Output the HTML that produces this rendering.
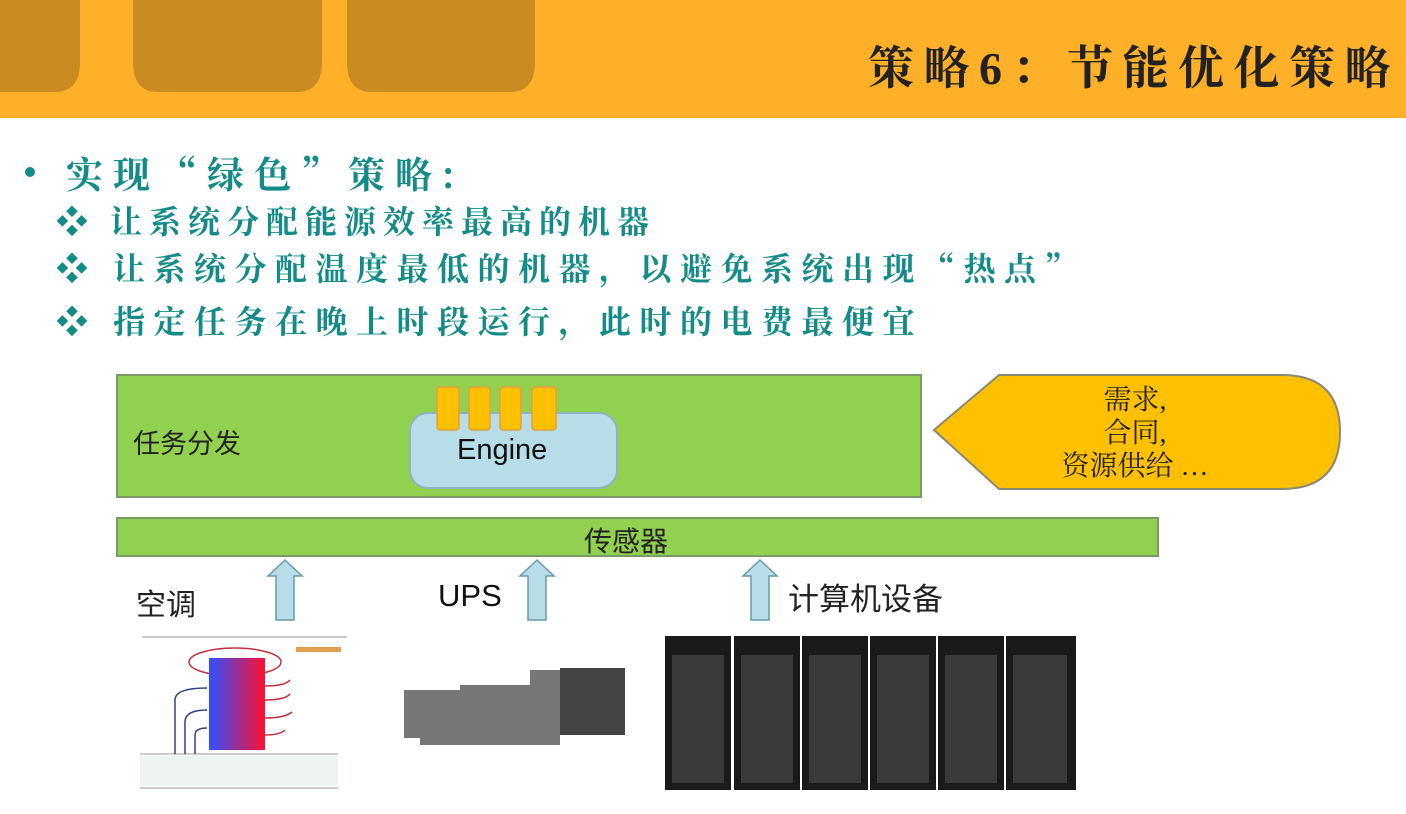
<!DOCTYPE html>
<html><head><meta charset="utf-8"><style>
body{margin:0;width:1406px;height:814px;background:#fff;overflow:hidden;position:relative;font-family:"Liberation Sans","Noto Sans CJK SC",sans-serif}
.abs{position:absolute;white-space:nowrap}
.t{color:#138b86;font-weight:bold;font-family:"Noto Serif CJK SC","Liberation Serif",serif}
</style></head><body>
<svg class="abs" style="left:0;top:0" width="1406" height="814">
<rect x="0" y="0" width="1406" height="118" fill="#FEB128"/>
<path d="M0 0H80V62Q80 92 55 92H0Z" fill="#C98B22"/>
<path d="M133 0H322V62Q322 92 297 92H158Q133 92 133 62Z" fill="#C98B22"/>
<path d="M347 0H535V62Q535 92 510 92H372Q347 92 347 62Z" fill="#C98B22"/>
<circle cx="30" cy="172" r="5" fill="#138b86"/>
<rect x="117" y="375" width="804" height="122" fill="#92D050" stroke="#7a9a6a" stroke-width="2"/>
<rect x="117" y="518" width="1041" height="38" fill="#92D050" stroke="#7a9a6a" stroke-width="2"/>
<rect x="410" y="413" width="207" height="75" rx="18" fill="#B7DDE8" stroke="#8fb3c0" stroke-width="2"/>
<g fill="#FFC000" stroke="#e0a040" stroke-width="1.5">
<rect x="437" y="387" width="22" height="43" rx="3"/><rect x="469" y="387" width="21" height="43" rx="3"/>
<rect x="500" y="387" width="21" height="43" rx="3"/><rect x="532" y="387" width="24" height="43" rx="3"/></g>
<path d="M934 430L999 375H1282Q1340 375 1340 432Q1340 489 1282 489H999Z" fill="#FFC000" stroke="#8a8a70" stroke-width="2"/>
<g fill="#B7DDE8" stroke="#6a9aa8" stroke-width="1.5">
<path d="M285 560L302 576H294V620H276V576H268Z"/>
<path d="M537 560L554 576H546V620H528V576H520Z"/>
<path d="M760 560L777 576H769V620H751V576H743Z"/></g>
<line x1="142" y1="637" x2="347" y2="637" stroke="#999"/>
<line x1="140" y1="754" x2="338" y2="754" stroke="#999"/>
<line x1="140" y1="788" x2="338" y2="788" stroke="#999"/>
<rect x="140" y="756" width="198" height="30" fill="#eef4f4"/>
<defs><linearGradient id="g" x1="0" x2="1"><stop offset="0" stop-color="#3050ff"/><stop offset="1" stop-color="#ff1030"/></linearGradient></defs>
<ellipse cx="235" cy="662" rx="46" ry="14" fill="none" stroke="#c03040" stroke-width="1.5"/>
<rect x="209" y="658" width="56" height="92" fill="url(#g)"/>
<g fill="none" stroke="#304080" stroke-width="1.5"><path d="M175 754V700Q175 688 207 688"/><path d="M185 754V722Q185 710 207 710"/><path d="M195 754V735Q195 728 207 728"/></g>
<g fill="none" stroke="#c03040" stroke-width="1.5"><path d="M265 686Q285 686 290 680"/><path d="M265 700Q285 700 290 694"/><path d="M265 718Q285 718 292 712"/><path d="M265 735Q280 735 285 730"/></g>
<rect x="296" y="647" width="45" height="5" fill="#e0a050"/>
<path d="M404 690H460V685H530V670H560V668H625V735H560V745H420V738H404Z" fill="#777"/>
<rect x="560" y="668" width="65" height="67" fill="#444"/>
<g fill="#1a1a1a">
<rect x="665" y="636" width="66" height="154"/><rect x="734" y="636" width="66" height="154"/><rect x="802" y="636" width="66" height="154"/>
<rect x="870" y="636" width="66" height="154"/><rect x="938" y="636" width="66" height="154"/><rect x="1006" y="636" width="70" height="154"/></g>
<g fill="#3a3a3a"><rect x="672" y="655" width="52" height="128"/><rect x="741" y="655" width="52" height="128"/><rect x="809" y="655" width="52" height="128"/><rect x="877" y="655" width="52" height="128"/><rect x="945" y="655" width="52" height="128"/><rect x="1013" y="655" width="54" height="128"/></g>
</svg>
<div class="abs" style="left:868px;top:32px;font-size:46px;letter-spacing:9.5px;font-weight:bold;color:#222;font-family:'Liberation Serif','Noto Serif CJK SC',serif">策略6：节能优化策略</div>
<div class="abs t" style="left:66px;top:147px;font-size:37px;letter-spacing:10px;line-height:50px">实现“绿色”策略:</div>
<div class="abs t" style="left:56px;top:198px;font-size:32px;letter-spacing:7px;line-height:44px">❖ 让系统分配能源效率最高的机器</div>
<div class="abs t" style="left:56px;top:245px;font-size:32px;letter-spacing:8.5px;line-height:44px">❖ 让系统分配温度最低的机器，以避免系统出现“热点”</div>
<div class="abs t" style="left:56px;top:298px;font-size:32px;letter-spacing:8.5px;line-height:44px">❖ 指定任务在晚上时段运行，此时的电费最便宜</div>
<div class="abs" style="left:133px;top:422px;font-size:27px;color:#222">任务分发</div>
<div class="abs" style="left:457px;top:434px;font-size:29px;color:#111">Engine</div>
<div class="abs" style="left:584px;top:520px;font-size:28px;color:#222">传感器</div>
<div class="abs" style="left:1030px;top:384px;width:210px;text-align:center;font-size:28px;line-height:33px;color:#222;font-family:'Liberation Serif','Noto Serif CJK SC',serif">需求,<br>合同,<br>资源供给 …</div>
<div class="abs" style="left:136px;top:580px;font-size:30px;color:#222">空调</div>
<div class="abs" style="left:438px;top:578px;font-size:31px;color:#111">UPS</div>
<div class="abs" style="left:788px;top:574px;font-size:31px;color:#222">计算机设备</div>
</body></html>
